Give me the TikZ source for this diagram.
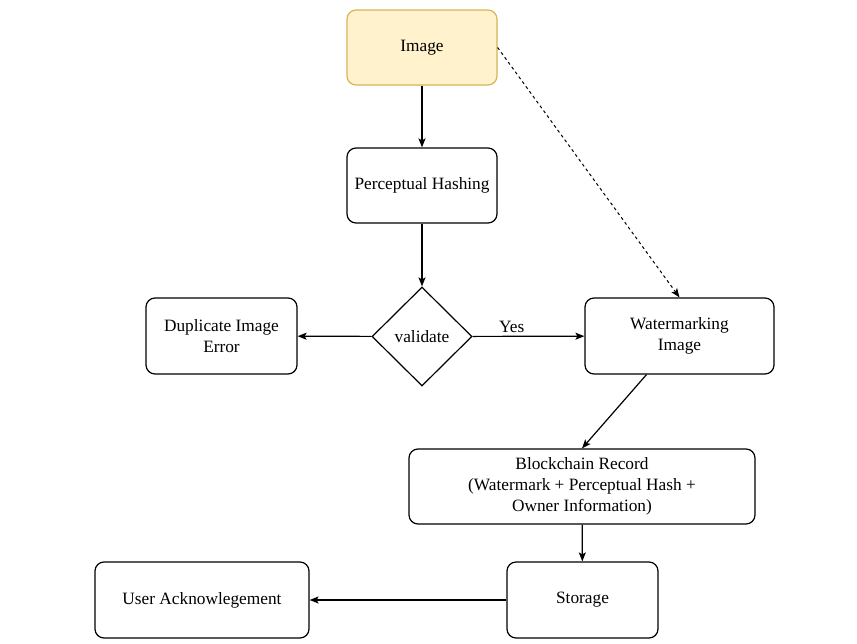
\documentclass[tikz,border=0pt]{standalone}
\usepackage{fontspec}
\setmainfont{Liberation Serif}
\usetikzlibrary{arrows.meta,shapes.geometric}
\definecolor{imgfill}{HTML}{FFF2CC}
\definecolor{imgdraw}{HTML}{D6B656}
\tikzset{
  lbl/.style={font=\fontsize{17.3}{21}\selectfont},
  box/.style={draw, rounded corners=9pt, line width=1.2pt, align=center, inner sep=0pt, lbl},
  dec/.style={draw, diamond, line width=1.2pt, minimum width=100pt, minimum height=99pt, inner sep=0pt, lbl},
  arr/.style={line width=1.2pt, -{Stealth[length=9pt,width=7pt,inset=2pt]}},
}
\begin{document}
\begin{tikzpicture}[x=1pt,y=-1pt]
\useasboundingbox (0,0) rectangle (857,643);
\node[box, fill=imgfill, draw=imgdraw, minimum width=150pt, minimum height=75pt] (img) at (422,47.5) {Image};
\node[box, minimum width=150pt, minimum height=75pt] (ph) at (422,185.5) {Perceptual Hashing};
\node[dec] (val) at (422,336.5) {validate};
\node[box, minimum width=151pt, minimum height=76pt] (dup) at (221.5,336) {Duplicate Image\\Error};
\node[box, minimum width=189pt, minimum height=76pt] (wm) at (679.5,336) {Watermarking\\Image};
\node[box, minimum width=346pt, minimum height=75pt] (bc) at (582,486.5) {Blockchain Record\\(Watermark + Perceptual Hash +\\Owner Information)};
\node[box, minimum width=151pt, minimum height=76pt] (st) at (582.5,600) {Storage};
\node[box, minimum width=214pt, minimum height=76pt] (ua) at (202,600) {User Acknowlegement};

\draw[arr] (img) -- (ph);
\draw[arr, dashed, line width=1pt] (img.east) -- (wm.north);
\draw[arr] (ph) -- (val);
\draw[arr] (val) -- (dup);
\draw[arr] (val) -- node[above, pos=0.35, lbl] {Yes} (wm);
\draw[arr] ([xshift=-33pt]wm.south) -- (bc.north);
\draw[arr] (bc) -- (st);
\draw[arr] (st) -- (ua);
\end{tikzpicture}
\end{document}
